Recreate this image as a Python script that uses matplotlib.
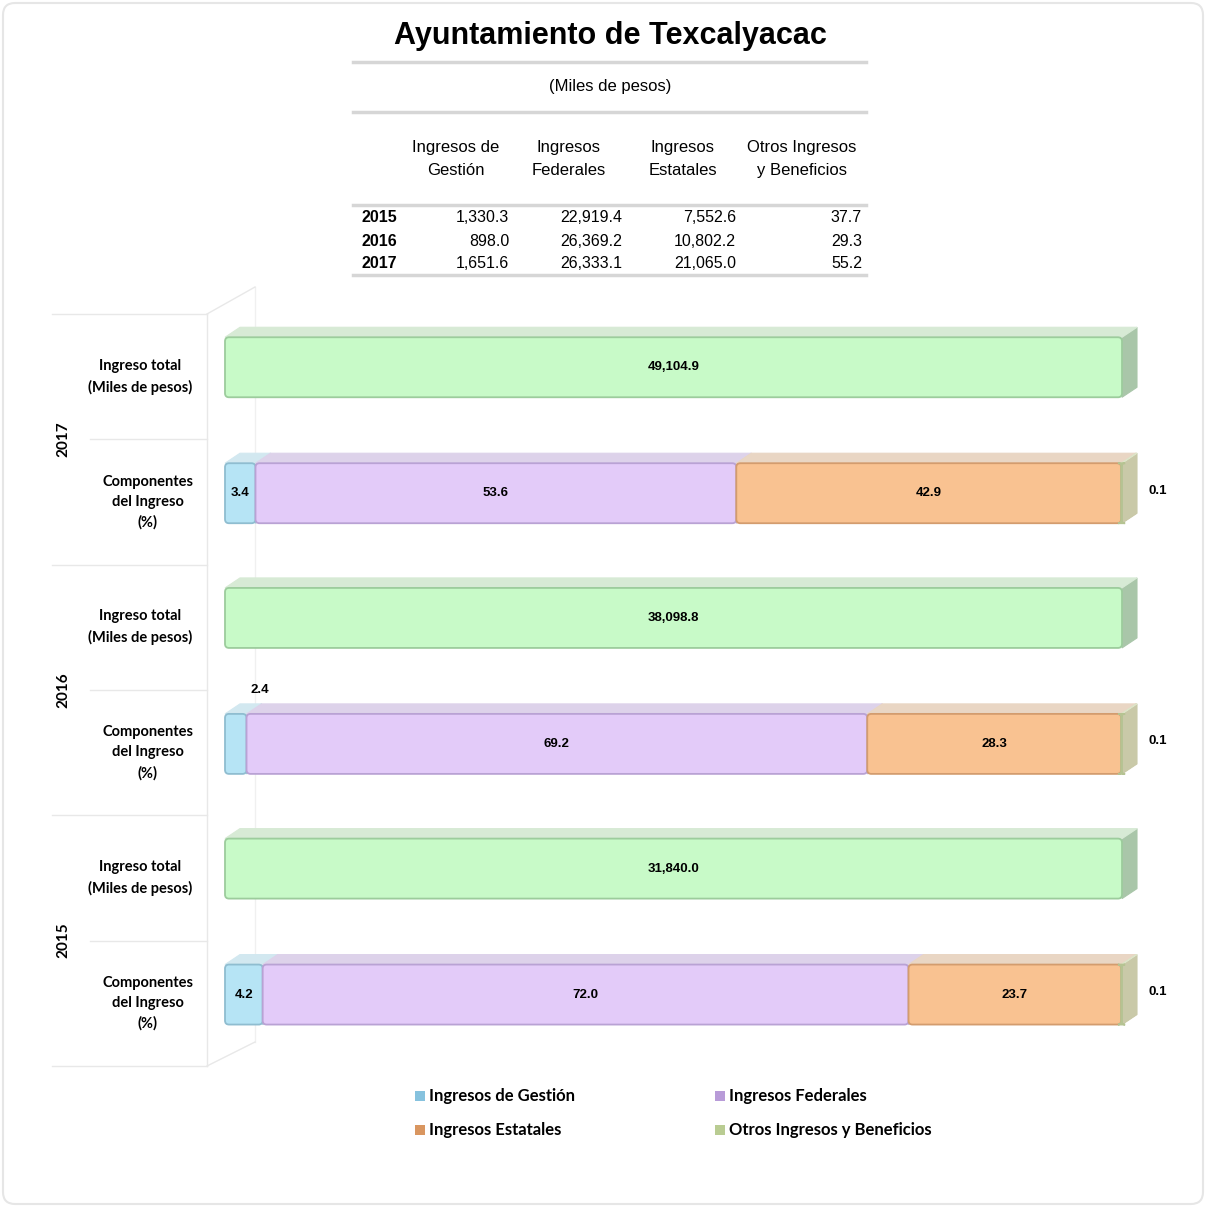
import matplotlib.pyplot as plt
import matplotlib.transforms as mtransforms
from matplotlib.patches import FancyBboxPatch, Polygon, Rectangle

# datos de la tabla (miles de pesos)
years = ["2015", "2016", "2017"]
col_headers = ["Ingresos de\nGestión", "Ingresos\nFederales", "Ingresos\nEstatales", "Otros Ingresos\ny Beneficios"]
gestion = ["1,330.3", "898.0", "1,651.6"]
federales = ["22,919.4", "26,369.2", "26,333.1"]
estatales = ["7,552.6", "10,802.2", "21,065.0"]
otros = ["37.7", "29.3", "55.2"]

# barras (de arriba hacia abajo: 2017, 2016, 2015)
bar_years = ["2017", "2016", "2015"]
totals = [49104.9, 38098.8, 31840.0]
share_gestion = [3.4, 2.4, 4.2]
share_federales = [53.6, 69.2, 72.0]
share_estatales = [42.9, 28.3, 23.7]
share_otros = [0.1, 0.1, 0.1]

series = ["Ingresos de Gestión", "Ingresos Federales", "Ingresos Estatales", "Otros Ingresos y Beneficios"]
# (frente, borde, arriba, lado)
styles = [
    ("#b6e4f5", "#8fbdd0", "#d2e8f0", "#9cc6d6"),
    ("#e3cbf9", "#b9a2d4", "#ddd2ea", "#c2b0d6"),
    ("#f9c291", "#d39c6e", "#e9d6c4", "#d8b494"),
    ("#d8e6b4", "#b5c392", "#dde4c8", "#c9c9a8"),
]
green = ("#c8fac8", "#9ccc9c", "#d7ead5", "#a9c6a9")
legend_colors = ["#86c2de", "#b89bd8", "#d99660", "#b9cc92"]

W, H = 1206, 1207
fig = plt.figure(figsize=(W / 100, H / 100), dpi=100)
fig.patch.set_facecolor("white")
fig.add_artist(FancyBboxPatch((3 / W, 3 / H), 1 - 6 / W, 1 - 6 / H, boxstyle="round,pad=0,rounding_size=0.01",
                              transform=fig.transFigure, fc="none", ec="#e6e6e6", lw=1.5))

def fx(px):
    return px / W

def fy(px):
    return 1 - px / H

# ---- titulo y tabla ----
fig.text(fx(610), fy(36), "Ayuntamiento de Texcalyacac", ha="center", va="center",
         fontsize=22, fontweight="bold", family="Liberation Sans")
for yl in [62, 112, 205, 275]:
    fig.add_artist(plt.Line2D([fx(353), fx(866)], [fy(yl), fy(yl)], color="#d6d6d6", lw=2.5))
fig.text(fx(610), fy(87), "(Miles de pesos)", ha="center", va="center", fontsize=12, family="Liberation Sans")
head_x = [456, 569, 683, 802]
for hx, hd in zip(head_x, col_headers):
    fig.text(fx(hx), fy(159), hd, ha="center", va="center", fontsize=12, family="Liberation Sans",
             linespacing=1.6)
num_x = [509, 622, 736, 862]
row_y = [218, 241, 264]
for r, yr in enumerate(years):
    fig.text(fx(361), fy(row_y[r]), yr, ha="left", va="center", fontsize=11.5, fontweight="bold",
             family="Liberation Sans")
    for c, col in enumerate([gestion, federales, estatales, otros]):
        fig.text(fx(num_x[c]), fy(row_y[r]), col[r], ha="right", va="center", fontsize=11.5,
                 family="Liberation Sans")

# ---- grafica de barras ----
ax = fig.add_axes([fx(225), 1 - 1066 / H, 897 / W, 752 / H])
ax.set_xlim(0, 100)
ax.set_ylim(6, 0)
ax.axis("off")

px_x = 100 / 897
px_y = 6 / 752
dx, dy = 15 * px_x, 10 * px_y
bh = 60 * px_y
aspect = px_y / px_x


def bar3d(left, width, yc, st):
    front, edge, top, side = st
    y0, y1 = yc - bh / 2, yc + bh / 2
    x1 = left + width
    ax.add_patch(Polygon([(x1, y0), (x1 + dx, y0 - dy), (x1 + dx, y1 - dy), (x1, y1)],
                         closed=True, fc=side, ec=side, lw=0.8, clip_on=False))
    ax.add_patch(Polygon([(left, y0), (left + dx, y0 - dy), (x1 + dx, y0 - dy), (x1, y0)],
                         closed=True, fc=top, ec=top, lw=0.8, clip_on=False))
    ax.add_patch(FancyBboxPatch((left, y0), width, bh, boxstyle="round,pad=0,rounding_size=0.45",
                                mutation_aspect=aspect, fc=front, ec=edge, lw=1.3, clip_on=False))


label_font = dict(fontsize=9.5, fontweight="bold", family="Liberation Sans")

for k in range(3):
    # ingreso total
    yc = 2 * k + 0.425
    bar3d(0, 100, yc, green)
    ax.text(50, yc, f"{totals[k]:,.1f}", ha="center", va="center", **label_font)
    # componentes
    yc = 2 * k + 1 + 0.43
    left = 0
    vals = [share_gestion[k], share_federales[k], share_estatales[k], share_otros[k]]
    for s, v in enumerate(vals):
        bar3d(left, v, yc, styles[s])
        if s == 3:
            ax.text(102.9, yc - 0.02, f"{v:.1f}", ha="left", va="center", clip_on=False, **label_font)
        elif v < 3:
            ax.text(left + v + dx * 0.9, yc - bh / 2 - dy - 0.11, f"{v:.1f}", ha="center", va="center",
                    **label_font)
        else:
            ax.text(left + v / 2, yc, f"{v:.1f}", ha="center", va="center", **label_font)
        left += v

# ---- etiquetas del eje y y lineas ----
bt = mtransforms.blended_transform_factory(fig.transFigure, ax.transData)
wall = "#e8e8e8"
ax.plot([fx(207), fx(207)], [0, 6], color=wall, lw=1, transform=bt, clip_on=False)
ax.plot([fx(207), fx(255)], [0, -27 * px_y], color=wall, lw=1, transform=bt, clip_on=False)
ax.plot([fx(255), fx(255)], [-27 * px_y, 6 - 24 * px_y], color="#f0f0f0", lw=1, transform=bt,
        clip_on=False, zorder=0)
ax.plot([fx(207), fx(255)], [6, 6 - 24 * px_y], color=wall, lw=1, transform=bt, clip_on=False)
for r in range(7):
    start = 52 if r % 2 == 0 else 90
    ax.plot([fx(start), fx(207)], [r, r], color=wall, lw=1, transform=bt, clip_on=False)

side_font = dict(fontsize=10.5, fontweight="bold", family="Lato")
for k, yr in enumerate(bar_years):
    ax.text(fx(140), 2 * k + 0.5, "Ingreso total\n(Miles de pesos)", ha="center", va="center",
            transform=bt, linespacing=1.55, **side_font)
    ax.text(fx(148), 2 * k + 1.5, "Componentes\ndel Ingreso\n(%)", ha="center", va="center",
            transform=bt, linespacing=1.55, **side_font)
    ax.text(fx(63), 2 * k + 1, yr, ha="center", va="center", rotation=90, transform=bt,
            fontsize=11, fontweight="bold", family="Lato")

# ---- leyenda ----
leg_pos = [(415, 1096), (715, 1096), (415, 1130), (715, 1130)]
for (lx, ly), name, col in zip(leg_pos, series, legend_colors):
    fig.add_artist(Rectangle((fx(lx), fy(ly + 5)), 10 / W, 10 / H, transform=fig.transFigure,
                             fc=col, ec="none"))
    fig.text(fx(lx + 14), fy(ly), name, ha="left", va="center", fontsize=12, fontweight="bold",
             family="Lato")

fig.savefig("out.png", dpi=100, facecolor="white")
